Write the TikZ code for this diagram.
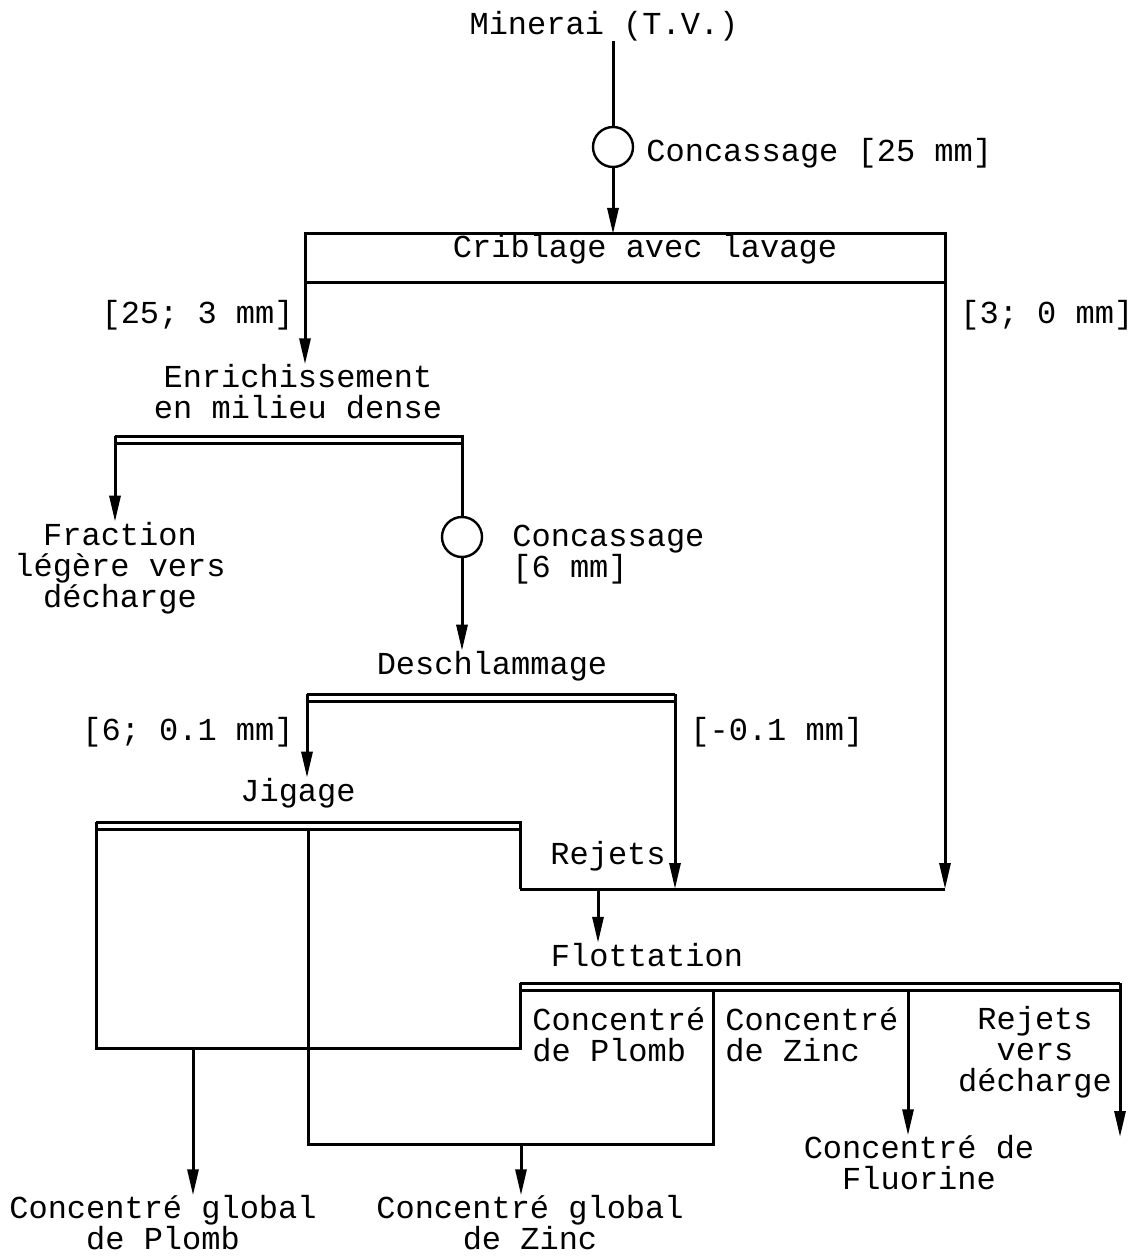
\documentclass[tikz,border=0pt]{standalone}
\usepackage{fontspec}
\usepackage{tikz}
\usetikzlibrary{arrows.meta}
\newfontfamily\flowfont{Liberation Mono}

\begin{document}
\begin{tikzpicture}[x=0.5pt, y=-0.5pt,
    txt/.style={font={\fontsize{16}{15.5}\flowfont}, inner sep=0pt, align=center},
    flow/.style={line width=1.5pt},
    arr/.style={flow, -{Triangle[length=13pt,width=5.5pt]}},
    crush/.style={circle, draw, line width=1.2pt, minimum size=20pt, inner sep=0pt}]
  \useasboundingbox (0,0) rectangle (1137,1256);

  % feed and first crushing
  \node[txt] (minerai) at (604,26) {Minerai (T.V.)};
  \node[crush] (c1) at (613,147) {};
  \node[txt, anchor=west] (conc1) at (646,153) {Concassage [25 mm]};
  \node[draw, flow, outer sep=0pt, inner sep=0pt, minimum width=320pt, minimum height=24.5pt] (crible) at (625,258.5) {};
  \node[txt] (cribtxt) at (645,249) {Criblage avec lavage};
  \node[txt, anchor=east] (g25) at (294,315) {[25; 3 mm]};
  \node[txt, anchor=west] (g3) at (960,315) {[3; 0 mm]};
  \draw[flow] (minerai.south -| c1) -- (c1.north);
  \draw[arr] (c1.south) -- (c1.south |- crible.north);

  % dense medium
  \node[txt] (enrich) at (298,392) {Enrichissement\\en milieu dense};
  \node[txt] (legere) at (120,568) {Fraction\\légère vers\\décharge};
  \node[crush] (c2) at (462,537) {};
  \node[txt, anchor=west, align=left] (conc2) at (512,555) {Concassage\\{}[6 mm]};
  \coordinate (dmsL) at (115,436);
  \coordinate (dmsR) at (462,436);
  \draw[arr] (crible.south west) -- (crible.south west |- enrich.north);
  \draw[flow] (dmsL) -- (dmsR) -- (c2.north);
  \draw[flow] ([yshift=-3.5pt]dmsL) -- ([yshift=-3.5pt]dmsR);
  \draw[arr] (dmsL) -- (dmsL |- legere.north);

  % desliming
  \node[txt] (desch) at (492,666) {Deschlammage};
  \node[txt, anchor=east] (g6) at (294,732) {[6; 0.1 mm]};
  \node[txt, anchor=west] (g01) at (690,732) {[-0.1 mm]};
  \node[txt] (jig) at (298,793) {Jigage};
  \coordinate (dslL) at (307,694);
  \coordinate (dslR) at (675,694);
  \draw[arr] (c2.south) -- (c2.south |- desch.north);
  \draw[flow] (dslL) -- (dslR);
  \draw[flow] ([yshift=-3.5pt]dslL) -- ([yshift=-3.5pt]dslR);
  \draw[arr] (dslL) -- (dslL |- jig.north);

  % rejects to flotation
  \node[txt] (rej) at (608,856) {Rejets};
  \node[txt] (flot) at (647,955) {Flottation};
  \coordinate (rejL) at (520,889);
  \coordinate (rejR) at (945,889);
  \coordinate (rejA) at (598,889);
  \draw[arr] (crible.south east) -- (rejR);
  \draw[arr] (dslR) -- (dslR |- rejR);
  \draw[flow] (rejL) -- (rejR);
  \draw[arr] (rejA) -- (rejA |- flot.north);

  % jigging
  \coordinate (jigL) at (96,822);
  \coordinate (jigR) at (520,822);
  \coordinate (jigM) at (308,829);
  \draw[flow] (jigL) -- (jigR) -- (rejL);
  \draw[flow] ([yshift=-3.5pt]jigL) -- ([yshift=-3.5pt]jigR);

  % flotation
  \node[txt, anchor=west, align=left] (cpb) at (532,1035) {Concentré\\de Plomb};
  \node[txt, anchor=west, align=left] (czn) at (725,1035) {Concentré\\de Zinc};
  \node[txt] (rdech) at (1035,1052) {Rejets\\vers\\décharge};
  \node[txt] (fluor) at (919,1163) {Concentré de\\Fluorine};
  \coordinate (flotL) at (520,983);
  \coordinate (flotR) at (1120,983);
  \coordinate (flotZ) at (713,990);
  \coordinate (flotF) at (908,990);
  \coordinate (dechA) at (1120,1137);
  \draw[flow] (flotL) -- (flotR);
  \draw[flow] ([yshift=-3.5pt]flotL) -- ([yshift=-3.5pt]flotR);
  \draw[arr] (flotF) -- (flotF |- fluor.north);
  \draw[arr] (flotR) -- (dechA);

  % global concentrates
  \node[txt] (gpb) at (163,1223) {Concentré global\\de Plomb};
  \node[txt] (gzn) at (530,1223) {Concentré global\\de Zinc};
  \coordinate (pbJ) at (520,1048);
  \coordinate (pbA) at (193,1048);
  \coordinate (znJ) at (713,1144);
  \coordinate (znA) at (521,1144);
  \draw[flow] (flotL) -- (pbJ) -- (jigL |- pbJ) -- (jigL);
  \draw[flow] (jigM) -- (jigM |- znJ) -- (znJ) -- (flotZ);
  \draw[arr] (pbA) -- (pbA |- gpb.north);
  \draw[arr] (znA) -- (znA |- gzn.north);
\end{tikzpicture}
\end{document}
